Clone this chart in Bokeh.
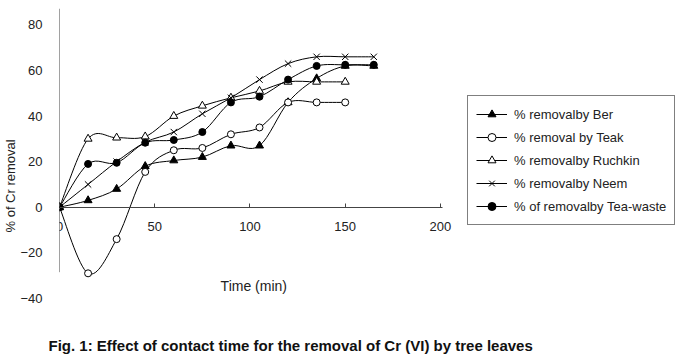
import math
from bokeh.plotting import figure
from bokeh.models import (FixedTicker, Label, Legend, LegendItem, ColumnDataSource, Title)
from bokeh.embed import file_html
from bokeh.resources import INLINE

# ---- data ----
time = [0, 15, 30, 45, 60, 75, 90, 105, 120, 135, 150, 165]
ber = [0, 3, 8, 18, 20.5, 22, 27, 27, 46, 56.5, 62, 62]
teak = [0, -29, -14, 15.5, 25, 26, 32, 35, 46, 46, 46]
ruchkin = [0, 30, 30.5, 31, 40, 44.5, 48, 51, 55, 55, 55]
neem = [0, 10, 20, 28.5, 33, 41, 48, 56, 63, 66, 66, 66]
tea_waste = [0, 19, 19.5, 28.3, 29.5, 33, 46, 48.5, 56, 62, 62.5, 62.5]

series_names = ["% removalby Ber", "% removal by Teak", "% removalby Ruchkin",
                "% removalby Neem", "% of removalby Tea-waste"]
x_ticks = [0, 50, 100, 150, 200]
y_ticks = [-40, -20, 0, 20, 40, 60, 80]

FONT = "Liberation Sans"
INK = "#222222"

p = figure(frame_width=632, frame_height=299,
           x_range=(0, 331.8), y_range=(-44, 87.2),
           output_backend="svg", toolbar_location=None,
           min_border_left=59, min_border_top=8, min_border_right=0, min_border_bottom=0)
p.grid.visible = False
p.outline_line_color = None
p.background_fill_color = "white"
p.border_fill_color = "white"

# x axis crossing at y = 0
xa = p.xaxis[0]
xa.fixed_location = 0
xa.ticker = FixedTicker(ticks=x_ticks)
xa.bounds = (0, 201)
xa.axis_line_color = "#444444"
xa.major_tick_in = 4
xa.major_tick_out = 0
xa.major_tick_line_color = "#444444"
xa.minor_tick_line_color = None
xa.major_label_standoff = 15
xa.major_label_text_font = FONT
xa.major_label_text_font_size = "13px"
xa.major_label_text_color = INK

ya = p.yaxis[0]
ya.ticker = FixedTicker(ticks=y_ticks)
ya.axis_line_color = None
ya.major_tick_line_color = None
ya.minor_tick_line_color = None
ya.major_label_standoff = 11
ya.major_label_text_font = FONT
ya.major_label_text_font_size = "13px"
ya.major_label_text_color = INK

# y axis line (Excel style, shorter than the tick label span)
p.segment(x0=[0], y0=[-28.5], x1=[0], y1=[87.2], line_color="#444444", line_width=1)


def smooth(xs, ys):
    """Catmull-Rom (Excel 'smoothed line') -> cubic Bezier segments."""
    n = len(xs)
    d = dict(x0=[], y0=[], x1=[], y1=[], cx0=[], cy0=[], cx1=[], cy1=[])
    for i in range(n - 1):
        xm, ym = (xs[i - 1], ys[i - 1]) if i > 0 else (xs[i], ys[i])
        xp, yp = (xs[i + 2], ys[i + 2]) if i + 2 < n else (xs[i + 1], ys[i + 1])
        d["x0"].append(xs[i]); d["y0"].append(ys[i])
        d["x1"].append(xs[i + 1]); d["y1"].append(ys[i + 1])
        d["cx0"].append(xs[i] + (xs[i + 1] - xm) / 6)
        d["cy0"].append(ys[i] + (ys[i + 1] - ym) / 6)
        d["cx1"].append(xs[i + 1] - (xp - xs[i]) / 6)
        d["cy1"].append(ys[i + 1] - (yp - ys[i]) / 6)
    return ColumnDataSource(d)


styles = [
    dict(marker="triangle", fill_color="black", size=8),
    dict(marker="circle", fill_color="white", size=7),
    dict(marker="triangle", fill_color="white", size=8),
    dict(marker="x", fill_color="black", size=9),
    dict(marker="circle", fill_color="black", size=7),
]
all_series = [ber, teak, ruchkin, neem, tea_waste]

items = []
for name, ys, st in zip(series_names, all_series, styles):
    xs = time[:len(ys)]
    src = smooth(xs, ys)
    b = p.bezier(x0="x0", y0="y0", x1="x1", y1="y1", cx0="cx0", cy0="cy0",
                 cx1="cx1", cy1="cy1", source=src, line_color="black", line_width=1)
    s = p.scatter(xs, ys, marker=st["marker"], size=st["size"],
                  fill_color=st["fill_color"], line_color="black", line_width=1)
    items.append(LegendItem(label=name, renderers=[b, s]))

legend = Legend(items=items, location=(408, 82),
                border_line_color="black", border_line_width=1,
                background_fill_color="white", background_fill_alpha=1,
                label_text_font=FONT, label_text_font_size="13px",
                label_text_color=INK, glyph_width=31, glyph_height=20,
                label_height=20, spacing=3, padding=8, label_standoff=7,
                margin=0)
p.add_layout(legend)

p.add_layout(Label(x=102, y=-34.5, text="Time (min)", text_align="center",
                   text_baseline="middle", text_font=FONT, text_font_size="14px",
                   text_color=INK))

p.add_layout(Title(text="% of Cr removal", align="left", offset=75, standoff=0,
                   text_font=FONT, text_font_size="13px", text_font_style="normal",
                   text_color=INK), "left")

p.add_layout(Title(text="Fig. 1: Effect of contact time for the removal of Cr (VI) by tree leaves",
                   align="left", offset=-11, standoff=55, text_font=FONT, text_font_size="15px",
                   text_font_style="bold", text_color="#111111"), "below")

open("out.html", "w").write(file_html(p, INLINE))
